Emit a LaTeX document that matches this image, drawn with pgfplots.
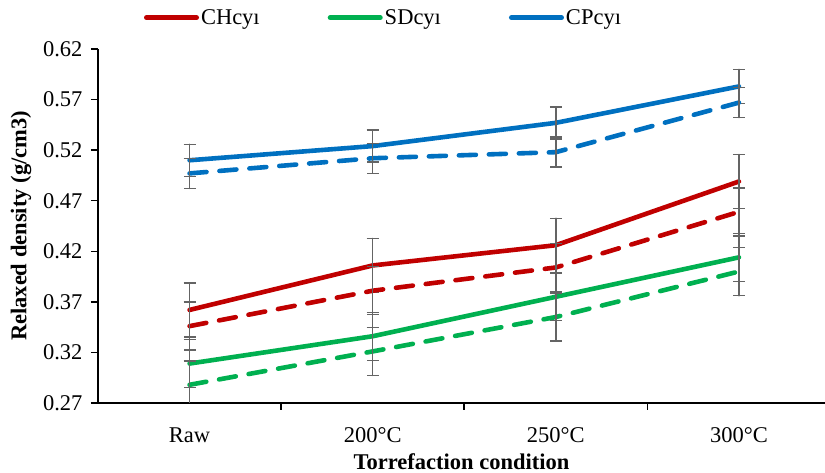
\documentclass[border=0pt]{standalone}
\usepackage{fontspec}
\setmainfont{Liberation Serif}
\usepackage{pgfplots}
\pgfplotsset{compat=1.18}
\definecolor{cR}{HTML}{C00000}
\definecolor{cG}{HTML}{00B050}
\definecolor{cB}{HTML}{0070C0}
\definecolor{eb}{HTML}{646464}
\begin{document}
\begin{tikzpicture}
\begin{axis}[
  at={(0pt,0pt)}, anchor=south west,
  scale only axis, width=727pt, height=354pt,
  xmin=-0.5, xmax=3.47, ymin=0.27, ymax=0.62,
  axis x line*=bottom, axis y line*=left,
  axis line style={line width=2.6pt, -},
  xtick={0,1,2,3}, xticklabels={Raw,200°C,250°C,300°C},
  minor xtick={0.5,1.5,2.5},
  major x tick style={draw=none},
  minor x tick style={line width=1.5pt, black},
  minor tick length=7pt,
  ytick={0.27,0.32,0.37,0.42,0.47,0.52,0.57,0.62},
  y tick style={line width=1.5pt, black},
  major tick length=7pt,
  tick align=outside,
  yticklabel style={/pgf/number format/fixed, /pgf/number format/precision=2, /pgf/number format/fixed zerofill},
  /pgf/number format/assume math mode=true,
  tick label style={font=\fontsize{22.5}{24}\selectfont},
  xticklabel style={yshift=-14pt},
  yticklabel style={xshift=-5pt},
  xlabel={Torrefaction condition},
  ylabel={Relaxed density (g/cm3)},
  label style={font=\fontsize{22.5}{24}\selectfont\bfseries},
  xlabel style={yshift=-4pt},
  ylabel style={yshift=5pt},
  legend columns=3,
  legend style={draw=none, at={(0.063,1.088)}, anchor=west, inner sep=0pt,
    font=\fontsize{22.5}{24}\selectfont,
    /tikz/every even column/.append style={column sep=66pt}},
  legend image code/.code={\draw[line width=5pt, line cap=round] (0pt,0pt) -- (50pt,0pt);},
  every axis plot/.append style={line width=4.6pt},
  error bars/y dir=both, error bars/y explicit,
  error bars/error bar style={eb, line width=1.4pt, solid},
  error bars/error mark options={eb, rotate=90, mark size=6pt, line width=1.4pt, solid},
  clip=true,
]
% solid
\addplot[cR, line cap=round] coordinates {(0,0.362) +- (0,0.0267) (1,0.406) +- (0,0.0267) (2,0.426) +- (0,0.0267) (3,0.489) +- (0,0.0267)};
\addlegendentry{CHcyı}
\addplot[cG, line cap=round] coordinates {(0,0.309) +- (0,0.0237) (1,0.336) +- (0,0.0237) (2,0.375) +- (0,0.0237) (3,0.414) +- (0,0.0237)};
\addlegendentry{SDcyı}
\addplot[cB, line cap=round] coordinates {(0,0.510) +- (0,0.0158) (1,0.524) +- (0,0.0158) (2,0.547) +- (0,0.0158) (3,0.583) +- (0,0.0168)};
\addlegendentry{CPcyı}
% dashed
\addplot[cR, line cap=round, dash pattern=on 17pt off 13pt, forget plot] coordinates {(0,0.346) +- (0,0.0237) (1,0.381) +- (0,0.0237) (2,0.404) +- (0,0.0237) (3,0.459) +- (0,0.0237)};
\addplot[cG, line cap=round, dash pattern=on 17pt off 13pt, forget plot] coordinates {(0,0.288) +- (0,0.0237) (1,0.321) +- (0,0.0237) (2,0.355) +- (0,0.0237) (3,0.400) +- (0,0.0240)};
\addplot[cB, line cap=round, dash pattern=on 17pt off 13pt, forget plot] coordinates {(0,0.497) +- (0,0.0148) (1,0.512) +- (0,0.0148) (2,0.518) +- (0,0.0148) (3,0.567) +- (0,0.0148)};
\end{axis}
\pgfresetboundingbox
\useasboundingbox (-98pt,-70pt) rectangle (727pt,403pt);
\end{tikzpicture}
\end{document}
